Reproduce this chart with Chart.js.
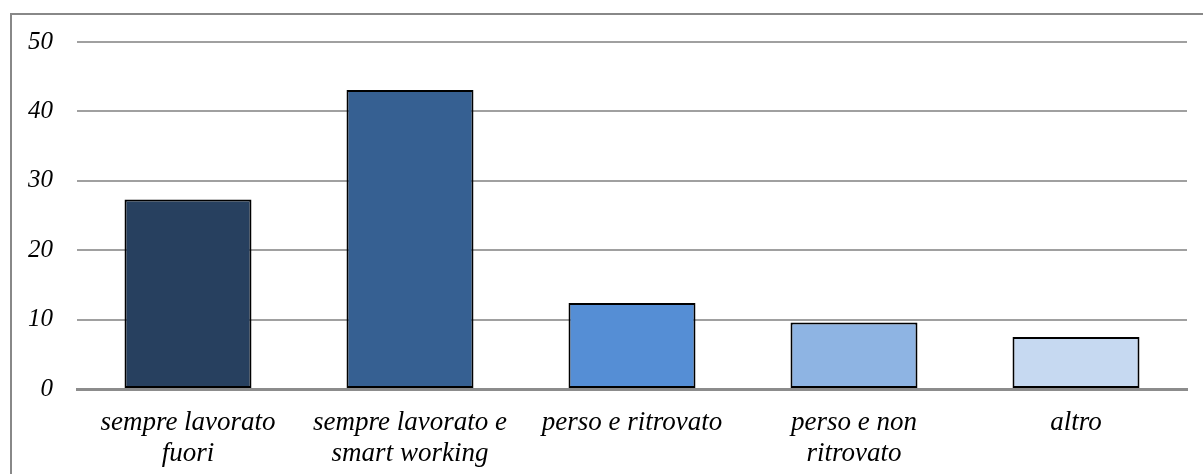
<!DOCTYPE html>
<html>
<head>
<meta charset="utf-8">
<script src="https://cdn.jsdelivr.net/npm/chart.js@4/dist/chart.umd.min.js"></script>
<style>
  html, body { margin: 0; padding: 0; background: #fff; }
  #wrap { position: relative; width: 1203px; height: 474px; }
</style>
</head>
<body>
<div id="wrap"><canvas id="c" width="1203" height="474"></canvas></div>
<script>
const categories = [
  ["sempre lavorato", "fuori"],
  ["sempre lavorato e", "smart working"],
  "perso e ritrovato",
  ["perso e non", "ritrovato"],
  "altro"
];
const values = [27.3, 43.1, 12.4, 9.6, 7.5];
const barColors = ["#27405f", "#366092", "#558ed5", "#8eb4e3", "#c6d9f1"];
const yTicks = [0, 10, 20, 30, 40, 50];

const FONT = "'Liberation Serif', 'Times New Roman', serif";

// outer frame around the chart
const framePlugin = {
  id: 'frame',
  beforeDraw(chart) {
    const ctx = chart.ctx;
    ctx.save();
    ctx.strokeStyle = '#888888';
    ctx.lineWidth = 2;
    ctx.strokeRect(11, 14, chart.width + 20, chart.height + 20);
    ctx.restore();
  }
};

new Chart(document.getElementById('c'), {
  type: 'bar',
  data: {
    labels: categories,
    datasets: [{
      data: values,
      backgroundColor: barColors,
      borderColor: '#000000',
      borderWidth: 2,
      borderSkipped: false,
      categoryPercentage: 1.0,
      barPercentage: 0.572
    }]
  },
  plugins: [framePlugin],
  options: {
    responsive: false,
    animation: false,
    devicePixelRatio: 1,
    layout: { padding: { top: 42, right: 16, left: 0, bottom: 0 } },
    plugins: {
      legend: { display: false },
      tooltip: { enabled: false }
    },
    scales: {
      x: {
        grid: { display: false, drawTicks: false },
        border: { display: true, color: '#8c8c8c', width: 3 },
        ticks: {
          color: '#000',
          padding: 18,
          maxRotation: 0,
          autoSkip: false,
          font: { family: FONT, size: 27, style: 'italic', lineHeight: 1.15 }
        },
        afterFit(scale) { scale.height = 85; }
      },
      y: {
        min: 0,
        max: 50,
        afterBuildTicks(scale) { scale.ticks = yTicks.map(v => ({ value: v })); },
        grid: { color: '#a0a0a0', lineWidth: 2, drawTicks: false },
        border: { display: false },
        ticks: {
          color: '#000',
          padding: 24,
          font: { family: FONT, size: 25, style: 'italic' }
        },
        afterFit(scale) { scale.width = 77; }
      }
    }
  }
});
</script>
</body>
</html>
